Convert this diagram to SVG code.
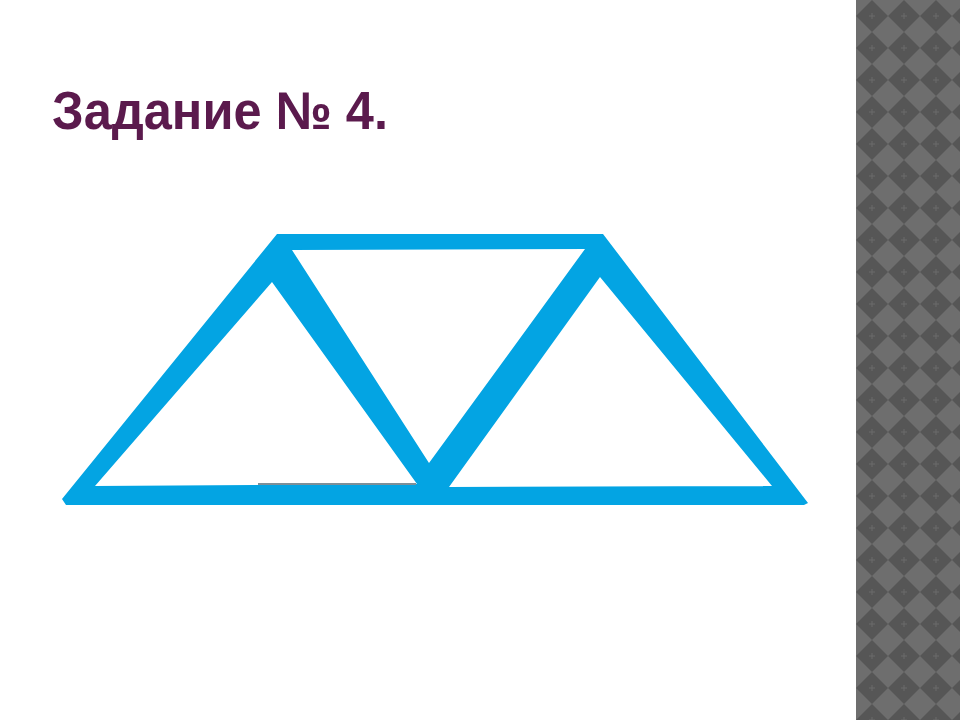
<svg xmlns="http://www.w3.org/2000/svg" width="960" height="720" viewBox="0 0 960 720">
  <style>
    .title { font-family: "Liberation Sans", Arial, sans-serif; font-weight: bold; fill: #5b1a4d; }
    .truss { fill: #03a4e3; fill-rule: evenodd; }
  </style>
  <defs>
    <pattern id="checks" patternUnits="userSpaceOnUse" x="856" y="0" width="32" height="32">
      <rect width="32" height="32" fill="#6e6e6e"/>
      <polygon points="16,0 32,16 16,32 0,16" fill="#565656"/>
      <path d="M16,13 V19 M13,16 H19" stroke="#6a6a6a" stroke-width="1"/>
    </pattern>
  </defs>
  <rect width="960" height="720" fill="#ffffff"/>
  <rect x="856" y="0" width="104" height="720" fill="url(#checks)"/>
  <text class="title" x="52" y="129" font-size="53" textLength="336" lengthAdjust="spacingAndGlyphs">Задание № 4.</text>
  <path class="truss" d="M277,234 L603,234 L808,503 L804,505 L66,505 L62,499 Z
    M272,282 L95,486 L417,484 Z
    M292,250 L585,249 L429,463 Z
    M600,277 L449,487 L772,486 Z"/>
  <line x1="258" y1="484" x2="416" y2="484" stroke="#7d8f98" stroke-width="2"/>
</svg>
